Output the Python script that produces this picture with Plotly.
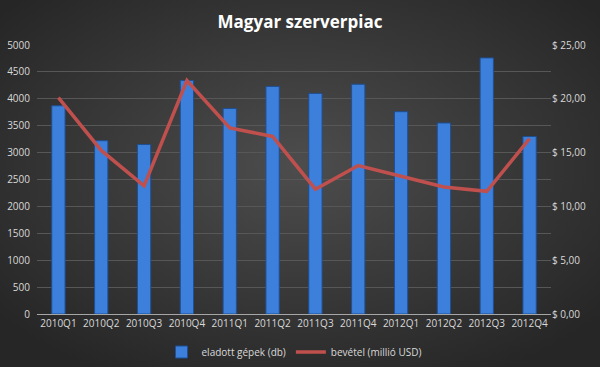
import base64
import plotly.graph_objects as go

categories = ["2010Q1", "2010Q2", "2010Q3", "2010Q4", "2011Q1", "2011Q2",
              "2011Q3", "2011Q4", "2012Q1", "2012Q2", "2012Q3", "2012Q4"]
units_sold = [3870, 3220, 3150, 4340, 3820, 4230, 4100, 4270, 3760, 3550, 4760, 3300]
revenue_musd = [20.1, 15.2, 11.9, 21.7, 17.3, 16.5, 11.6, 13.8, 12.8, 11.8, 11.4, 16.3]
left_ticks = [0, 500, 1000, 1500, 2000, 2500, 3000, 3500, 4000, 4500, 5000]
right_ticks = [0, 5, 10, 15, 20, 25]
right_ticktext = ["$ 0,00", "$ 5,00", "$ 10,00", "$ 15,00", "$ 20,00", "$ 25,00"]

W, H = 600, 367
ml, mr, mt, mb = 37, 49, 45, 53
pw, ph = W - ml - mr, H - mt - mb

svg = f'''<svg xmlns="http://www.w3.org/2000/svg" width="{W}" height="{H}" viewBox="0 0 {W} {H}" preserveAspectRatio="none">
<defs><radialGradient id="g" cx="50%" cy="45%" r="65%">
<stop offset="0%" stop-color="#4d4d4d"/><stop offset="100%" stop-color="#262626"/></radialGradient></defs>
<rect width="{W}" height="{H}" fill="url(#g)"/></svg>'''
bg_src = "data:image/svg+xml;base64," + base64.b64encode(svg.encode()).decode()

font_fam = "Open Sans, Liberation Sans, sans-serif"
txt = "#d9d9d9"

fig = go.Figure()
fig.add_trace(go.Bar(
    x=categories, y=units_sold, name="eladott gépek (db)",
    marker=dict(color="#3d80db", line=dict(color="#1f4f94", width=1)),
    yaxis="y",
))
fig.add_trace(go.Scatter(
    x=categories, y=revenue_musd, name="bevétel (millió USD)",
    mode="lines", line=dict(color="#c0504d", width=3.5),
    yaxis="y2",
))

fig.update_layout(
    width=W, height=H,
    margin=dict(l=ml, r=mr, t=mt, b=mb, autoexpand=False),
    paper_bgcolor="#333333", plot_bgcolor="rgba(0,0,0,0)",
    images=[dict(source=bg_src, xref="paper", yref="paper",
                 x=-ml / pw, y=1 + mt / ph, sizex=W / pw, sizey=H / ph,
                 xanchor="left", yanchor="top", sizing="stretch", layer="below")],
    title=dict(text="<b>Magyar szerverpiac</b>", x=0.5, xanchor="center",
               y=1 - 22 / H, yanchor="middle",
               font=dict(family=font_fam, size=17, color="#ffffff")),
    font=dict(family=font_fam, size=10, color=txt),
    bargap=0.69,
    showlegend=True,
    legend=dict(orientation="h", x=0.5, xanchor="center",
                y=-(352 - 314) / ph, yanchor="middle",
                font=dict(size=10, color=txt), bgcolor="rgba(0,0,0,0)"),
    xaxis=dict(showgrid=False, showline=True, linecolor="#a6a6a6", linewidth=1,
               ticks="", tickfont=dict(size=10, color=txt)),
    yaxis=dict(range=[0, 5000], tickvals=left_ticks, tickformat="d",
               showgrid=True, gridcolor="#575757", gridwidth=1, zeroline=False,
               ticks="", ticklabelstandoff=6, tickfont=dict(size=10, color=txt)),
    yaxis2=dict(range=[0, 25], overlaying="y", side="right",
                tickvals=right_ticks, ticktext=right_ticktext,
                showgrid=False, zeroline=False, ticks="",
                tickfont=dict(size=10, color=txt)),
)

fig.write_html("out.html", config={"displayModeBar": False},
               post_script="document.body.style.margin='0';document.body.style.overflow='hidden';")
